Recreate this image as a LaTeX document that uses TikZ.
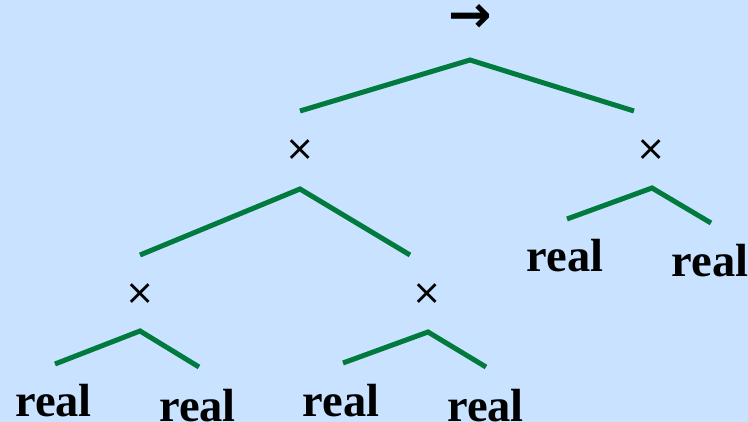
\documentclass[tikz,border=0pt]{standalone}
\usepackage{fontspec}
\setmainfont{Liberation Serif}
\newfontfamily\symfont{DejaVu Sans}
\definecolor{bgblue}{RGB}{200,226,255}
\definecolor{treegreen}{RGB}{0,122,61}
\begin{document}
\begin{tikzpicture}[x=1pt,y=-1pt,
  edge/.style={draw=treegreen,line width=5pt},
  leaf/.style={anchor=base,inner sep=0pt,font=\fontsize{46.5}{46.5}\selectfont\bfseries},
  op/.style={inner sep=0pt,font=\symfont\fontsize{35}{35}\selectfont},
  arr/.style={inner sep=0pt,font=\symfont\fontsize{52}{52}\selectfont\bfseries}]
\fill[bgblue] (0,0) rectangle (748,422);
\useasboundingbox (0,0) rectangle (748,422);
% labels
\node[arr] (root) at (470,18) {→};
\node[op] (m1) at (300,150) {×};
\node[op] (m2) at (651,150) {×};
\node[op] (m3) at (140,294) {×};
\node[op] (m4) at (427,294) {×};
\node[leaf] (r1) at (565,272) {real};
\node[leaf] (r2) at (710,277) {real};
\node[leaf] (r3) at (53.5,417) {real};
\node[leaf] (r4) at (197.5,421) {real};
\node[leaf] (r5) at (341,417) {real};
\node[leaf] (r6) at (485.5,421) {real};
% branch points
\coordinate (a0) at (470,60);
\coordinate (a0l) at (300,111);
\coordinate (a0r) at (634,111);
\coordinate (a1) at (300,189);
\coordinate (a1l) at (140,255);
\coordinate (a1r) at (410,255);
\coordinate (a2) at (652,188);
\coordinate (a2l) at (567,219);
\coordinate (a2r) at (711,223);
\coordinate (a3) at (140,331);
\coordinate (a3l) at (55,364);
\coordinate (a3r) at (199,367);
\coordinate (a4) at (428,332);
\coordinate (a4l) at (343,363);
\coordinate (a4r) at (486,367);
\draw[edge] (a0l) -- (a0) -- (a0r);
\draw[edge] (a1l) -- (a1) -- (a1r);
\draw[edge] (a2l) -- (a2) -- (a2r);
\draw[edge] (a3l) -- (a3) -- (a3r);
\draw[edge] (a4l) -- (a4) -- (a4r);
\end{tikzpicture}
\end{document}
